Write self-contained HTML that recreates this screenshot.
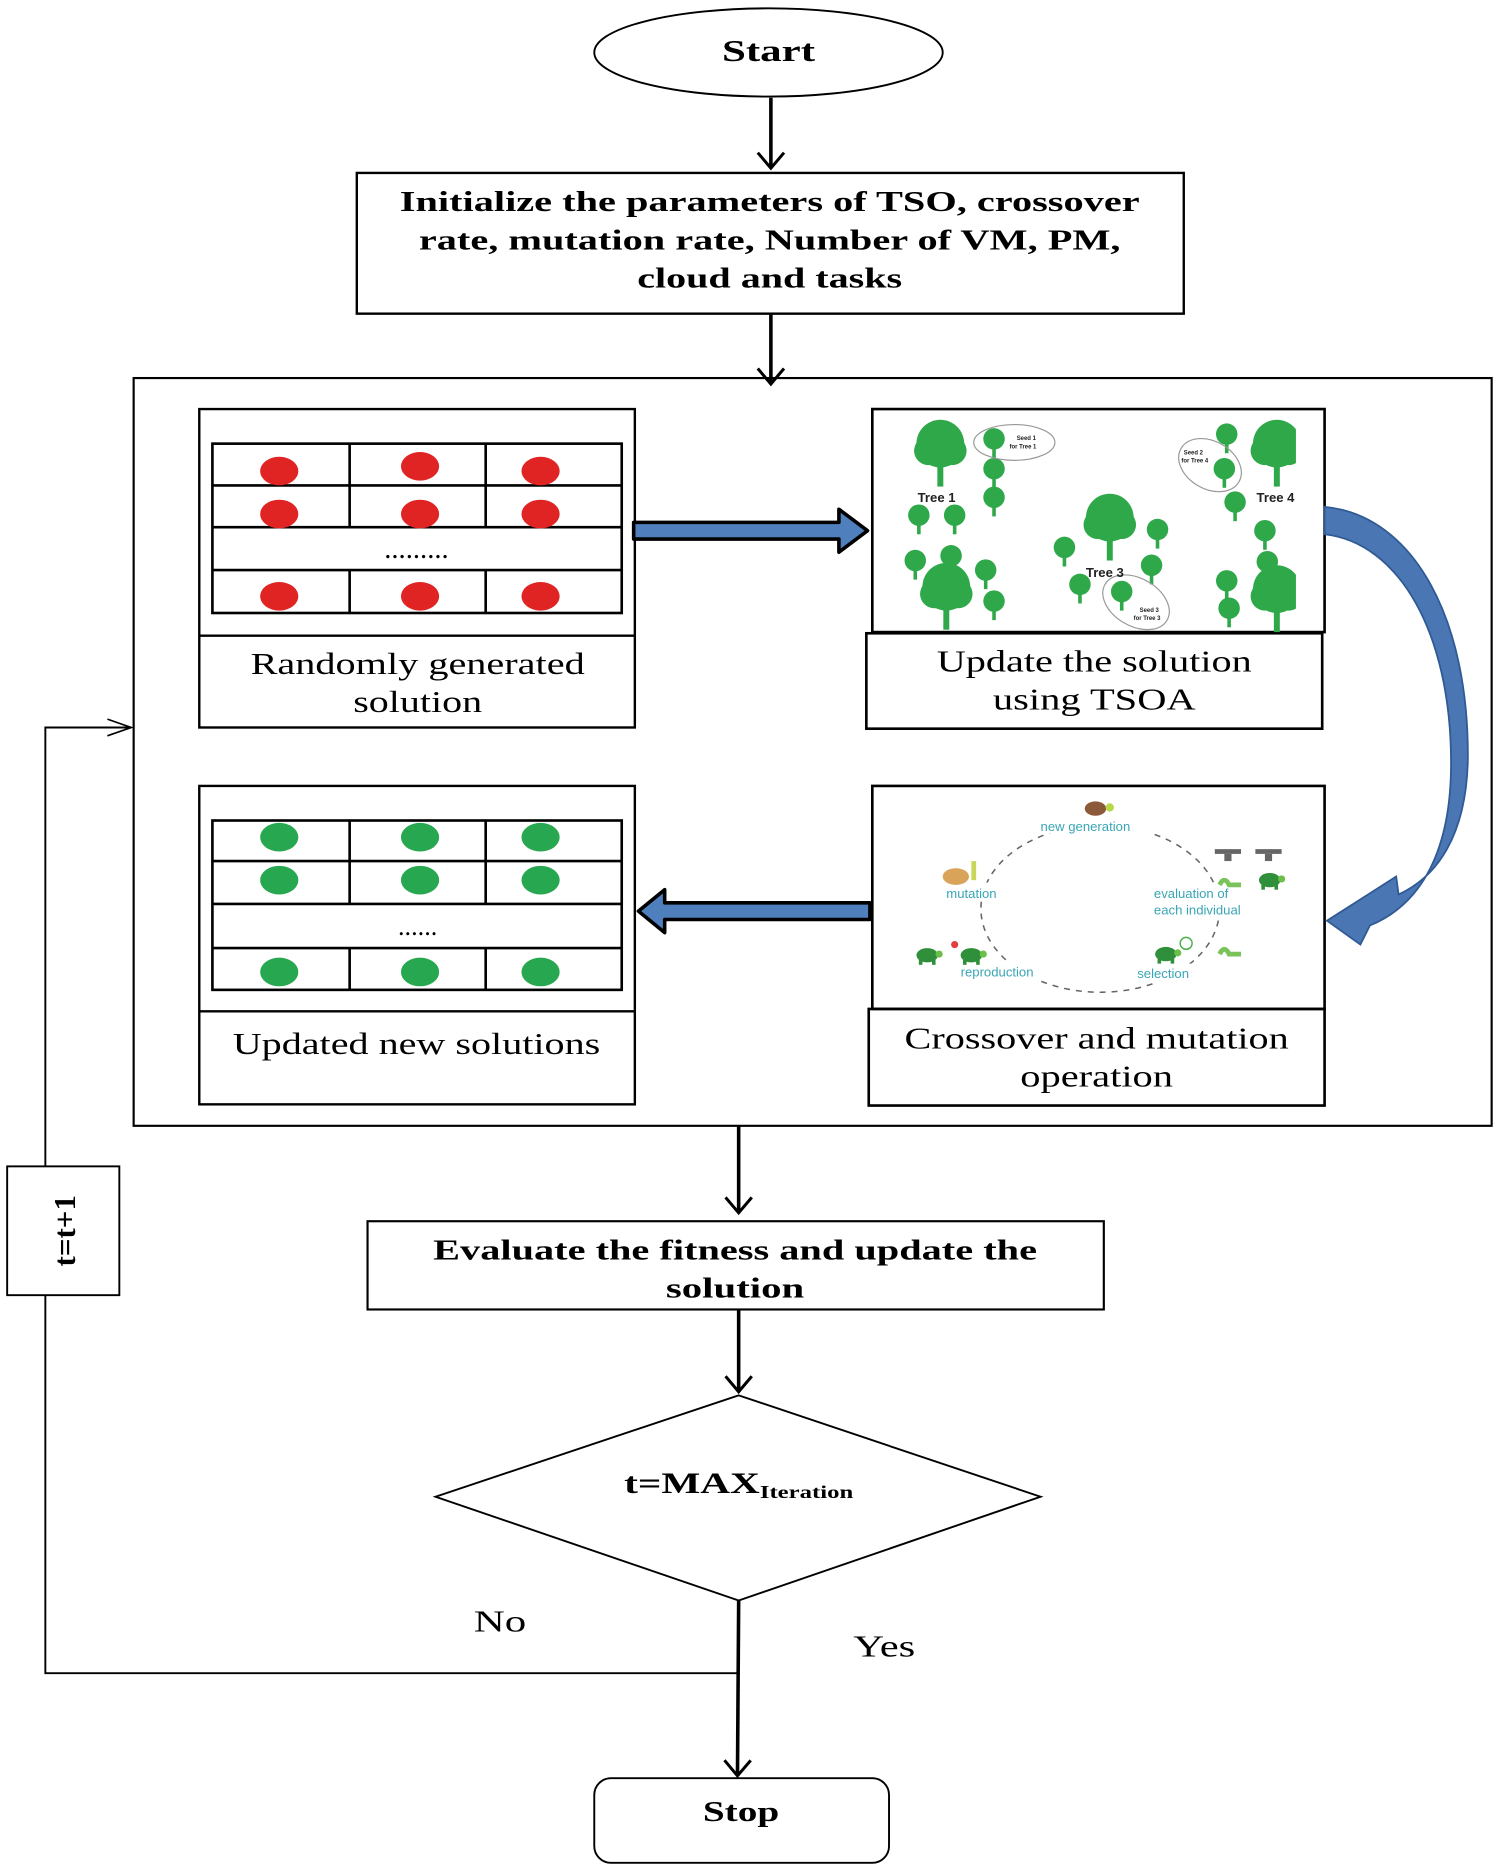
<!DOCTYPE html>
<html><head><meta charset="utf-8"><style>
html,body{margin:0;padding:0;background:#fff}
svg{display:block}
.s{font-family:"Liberation Serif",serif}
.b{font-family:"Liberation Serif",serif;font-weight:bold}
.t{font-family:"Liberation Sans",sans-serif;fill:#3aa6b5}
</style></head><body>
<svg width="1500" height="1870" viewBox="0 0 1257 1568" preserveAspectRatio="none" xmlns="http://www.w3.org/2000/svg">
<defs>
<marker id="ah" markerWidth="24" markerHeight="30" refX="14" refY="15" orient="auto" markerUnits="userSpaceOnUse">
<path d="M1,4 L14,15 L1,26" fill="none" stroke="#000" stroke-width="2.5"/></marker>
<marker id="ah2" markerWidth="24" markerHeight="20" refX="22" refY="10" orient="auto" markerUnits="userSpaceOnUse">
<path d="M2,3 L22,10 L2,17" fill="none" stroke="#000" stroke-width="1.4"/></marker>
<g id="sm"><circle cx="0" cy="-4" r="9" fill="#2fa84a"/><rect x="-1.5" y="2" width="3" height="10" fill="#2fa84a"/></g>
<g id="bg"><circle cx="0" cy="-6" r="20" fill="#2fa84a"/><circle cx="-10" cy="0" r="12" fill="#2fa84a"/><circle cx="10" cy="0" r="12" fill="#2fa84a"/><rect x="-2.5" y="8" width="5" height="22" fill="#2fa84a"/></g>
<g id="tu"><ellipse cx="0" cy="0" rx="9" ry="6" fill="#2f8f3a"/><circle cx="10" cy="-1" r="3" fill="#6cc04a"/><rect x="-7" y="4" width="3" height="4" fill="#2f8f3a"/><rect x="4" y="4" width="3" height="4" fill="#2f8f3a"/></g>
</defs>
<g fill="none" stroke="#000" stroke-width="2">
<ellipse cx="644" cy="44" rx="146" ry="37" stroke-width="1.6"/>
<line x1="646" y1="82" x2="646" y2="141" stroke-width="3" marker-end="url(#ah)"/>
<rect x="299" y="145" width="693" height="118"/>
<line x1="646" y1="263" x2="646" y2="322" stroke-width="3" marker-end="url(#ah)"/>
<rect x="112" y="317" width="1138" height="627" stroke-width="1.8"/>
<rect x="167" y="343" width="365" height="267"/>
<line x1="167" y1="533" x2="532" y2="533"/>
<rect x="178" y="372" width="343" height="142" stroke-width="2.2"/>
<path d="M178,407H521M178,442H521M178,478H521M293,372V442M407,372V442M293,478V514M407,478V514" stroke-width="2.2"/>
<rect x="731" y="343" width="379" height="187" stroke-width="2.2"/>
<rect x="726" y="531" width="382" height="80" stroke-width="2.2"/>
<rect x="167" y="659" width="365" height="267"/>
<line x1="167" y1="848" x2="532" y2="848"/>
<rect x="178" y="688" width="343" height="142" stroke-width="2.2"/>
<path d="M178,722H521M178,758H521M178,795H521M293,688V758M407,688V758M293,795V830M407,795V830" stroke-width="2.2"/>
<rect x="731" y="659" width="379" height="187" stroke-width="2.2"/>
<rect x="728" y="846" width="382" height="81" stroke-width="2.2"/>
<line x1="619" y1="944" x2="619" y2="1017" stroke-width="3" marker-end="url(#ah)"/>
<rect x="308" y="1024" width="617" height="74" stroke-width="1.8"/>
<line x1="619" y1="1098" x2="619" y2="1167" stroke-width="3" marker-end="url(#ah)"/>
<polygon points="619,1170 872,1255 619,1342 365,1255" stroke-width="1.6"/>
<line x1="619" y1="1342" x2="618" y2="1489" stroke-width="3" marker-end="url(#ah)"/>
<rect x="498" y="1491" width="247" height="71" rx="14" stroke-width="1.6"/>
<polyline points="618,1403 38,1403 38,1086" stroke-width="1.6"/>
<rect x="6" y="978" width="94" height="108" stroke-width="1.6"/>
<polyline points="38,978 38,610 110,610" stroke-width="1.6" marker-end="url(#ah2)"/>
</g>
<g fill="#e02424">
<ellipse cx="234" cy="395" rx="16" ry="12"/><ellipse cx="352" cy="391" rx="16" ry="12"/><ellipse cx="453" cy="395" rx="16" ry="12"/>
<ellipse cx="234" cy="431" rx="16" ry="12"/><ellipse cx="352" cy="431" rx="16" ry="12"/><ellipse cx="453" cy="431" rx="16" ry="12"/>
<ellipse cx="234" cy="500" rx="16" ry="12"/><ellipse cx="352" cy="500" rx="16" ry="12"/><ellipse cx="453" cy="500" rx="16" ry="12"/>
</g>
<g fill="#27a74f">
<ellipse cx="234" cy="702" rx="16" ry="12"/><ellipse cx="352" cy="702" rx="16" ry="12"/><ellipse cx="453" cy="702" rx="16" ry="12"/>
<ellipse cx="234" cy="738" rx="16" ry="12"/><ellipse cx="352" cy="738" rx="16" ry="12"/><ellipse cx="453" cy="738" rx="16" ry="12"/>
<ellipse cx="234" cy="815" rx="16" ry="12"/><ellipse cx="352" cy="815" rx="16" ry="12"/><ellipse cx="453" cy="815" rx="16" ry="12"/>
</g>
<text x="349" y="468" class="s" font-size="24" text-anchor="middle">.........</text>
<text x="350" y="784" class="s" font-size="22" text-anchor="middle">......</text>
<path d="M531,438 H703 V427 L727,445 L703,463 V452 H531 Z" fill="#4f7fbd" stroke="#000" stroke-width="3" stroke-linejoin="round"/>
<path d="M729,757 H557 V746 L535,764 L557,782 V771 H729 Z" fill="#4f7fbd" stroke="#000" stroke-width="3" stroke-linejoin="round"/>
<path d="M1110,425 C1185,432 1232,520 1230,640 C1228,700 1205,735 1172,750 L1170,735 L1112,772 L1140,792 L1148,776 C1192,758 1216,712 1216,640 C1216,530 1172,455 1110,448 Z" fill="#4a76b3" stroke="#2f5a94" stroke-width="1.5"/>
<use href="#bg" x="788" y="378"/><use href="#bg" x="793" y="498"/><use href="#bg" x="930" y="440"/><use href="#bg" x="1070" y="378"/><use href="#bg" x="1070" y="500"/>
<use href="#sm" x="833" y="372"/><use href="#sm" x="833" y="397"/><use href="#sm" x="833" y="421"/><use href="#sm" x="770" y="436"/><use href="#sm" x="800" y="436"/>
<use href="#sm" x="767" y="474"/><use href="#sm" x="797" y="470"/><use href="#sm" x="826" y="482"/><use href="#sm" x="833" y="508"/><use href="#sm" x="892" y="463"/>
<use href="#sm" x="970" y="448"/><use href="#sm" x="965" y="478"/><use href="#sm" x="905" y="494"/><use href="#sm" x="940" y="500"/><use href="#sm" x="1028" y="368"/>
<use href="#sm" x="1026" y="397"/><use href="#sm" x="1035" y="425"/><use href="#sm" x="1060" y="449"/><use href="#sm" x="1062" y="475"/><use href="#sm" x="1028" y="491"/><use href="#sm" x="1030" y="514"/>
<g fill="none" stroke="#999" stroke-width="1"><ellipse cx="850" cy="371" rx="34" ry="15"/><ellipse cx="1014" cy="390" rx="28" ry="20" transform="rotate(30 1014 390)"/><ellipse cx="952" cy="505" rx="30" ry="20" transform="rotate(30 952 505)"/></g>
<g font-family="Liberation Sans,sans-serif" font-weight="bold" fill="#222">
<text x="769" y="421" font-size="11">Tree 1</text><text x="910" y="484" font-size="11">Tree 3</text><text x="1053" y="421" font-size="11">Tree 4</text>
<text x="852" y="369" font-size="5">Seed 1</text><text x="846" y="376" font-size="5">for Tree 1</text>
<text x="992" y="381" font-size="5">Seed 2</text><text x="990" y="388" font-size="5">for Tree 4</text>
<text x="955" y="513" font-size="5">Seed 3</text><text x="950" y="520" font-size="5">for Tree 3</text>
</g>
<rect x="1086" y="345" width="22" height="182" fill="#fff"/>
<ellipse cx="922" cy="762" rx="100" ry="70" fill="none" stroke="#666" stroke-width="1.3" stroke-dasharray="5,5"/>
<rect x="865" y="683" width="115" height="16" fill="#fff"/>
<rect x="788" y="740" width="70" height="16" fill="#fff"/>
<rect x="960" y="740" width="110" height="30" fill="#fff"/>
<rect x="800" y="806" width="95" height="16" fill="#fff"/>
<rect x="948" y="808" width="68" height="16" fill="#fff"/>
<g font-size="11" class="t">
<text x="872" y="697">new generation</text><text x="793" y="753">mutation</text>
<text x="967" y="753">evaluation of</text><text x="967" y="767">each individual</text>
<text x="805" y="819">reproduction</text><text x="953" y="820">selection</text>
</g>
<ellipse cx="918" cy="678" rx="9" ry="6" fill="#8a5a3a"/><circle cx="930" cy="677" r="3.5" fill="#b8d84a"/>
<ellipse cx="801" cy="735" rx="11" ry="7" fill="#d9a45a"/><rect x="814" y="722" width="4" height="16" fill="#c9d65a"/>
<use href="#tu" x="777" y="801"/><use href="#tu" x="814" y="801"/><circle cx="800" cy="792" r="3" fill="#e04040"/>
<use href="#tu" x="977" y="800"/><circle cx="994" cy="791" r="5" fill="none" stroke="#4ab04a" stroke-width="1.2"/>
<use href="#tu" x="1064" y="738"/><path d="M1022,742 q4,-8 8,0 h10" stroke="#7ac25a" stroke-width="4" fill="none"/>
<path d="M1022,800 q4,-8 8,0 h10" stroke="#7ac25a" stroke-width="4" fill="none"/>
<g fill="#666"><rect x="1018" y="712" width="22" height="4"/><rect x="1026" y="716" width="6" height="6"/><rect x="1052" y="712" width="22" height="4"/><rect x="1060" y="716" width="6" height="6"/></g>
<text x="644" y="51" class="b" font-size="26" text-anchor="middle" textLength="78" lengthAdjust="spacingAndGlyphs">Start</text>
<g class="b" font-size="24" text-anchor="middle">
<text x="645" y="177" textLength="620" lengthAdjust="spacingAndGlyphs">Initialize the parameters of TSO, crossover</text>
<text x="645" y="209" textLength="588" lengthAdjust="spacingAndGlyphs">rate, mutation rate, Number of VM, PM,</text>
<text x="645" y="241" textLength="222" lengthAdjust="spacingAndGlyphs">cloud and tasks</text>
<text x="616" y="1056" textLength="506" lengthAdjust="spacingAndGlyphs">Evaluate the fitness and update the</text>
<text x="616" y="1088" textLength="116" lengthAdjust="spacingAndGlyphs">solution</text>
</g>
<text x="621" y="1527" class="b" font-size="24" text-anchor="middle" textLength="64" lengthAdjust="spacingAndGlyphs">Stop</text>
<text x="523" y="1252" class="b" font-size="25" textLength="192" lengthAdjust="spacingAndGlyphs">t=MAX<tspan font-size="15" dy="4">Iteration</tspan></text>
<g class="s" font-size="26" text-anchor="middle">
<text x="350" y="565" textLength="280" lengthAdjust="spacingAndGlyphs">Randomly generated</text>
<text x="350" y="597" textLength="108" lengthAdjust="spacingAndGlyphs">solution</text>
<text x="917" y="563" textLength="264" lengthAdjust="spacingAndGlyphs">Update the solution</text>
<text x="917" y="595" textLength="170" lengthAdjust="spacingAndGlyphs">using TSOA</text>
<text x="349" y="884" textLength="308" lengthAdjust="spacingAndGlyphs">Updated new solutions</text>
<text x="919" y="879" textLength="322" lengthAdjust="spacingAndGlyphs">Crossover and mutation</text>
<text x="919" y="911" textLength="128" lengthAdjust="spacingAndGlyphs">operation</text>
<text x="419" y="1368" textLength="44" lengthAdjust="spacingAndGlyphs">No</text>
<text x="741" y="1389" textLength="52" lengthAdjust="spacingAndGlyphs">Yes</text>
</g>
<text transform="translate(63,1032) rotate(-90)" class="b" font-size="26" text-anchor="middle">t=t+1</text>
</svg>
</body></html>
